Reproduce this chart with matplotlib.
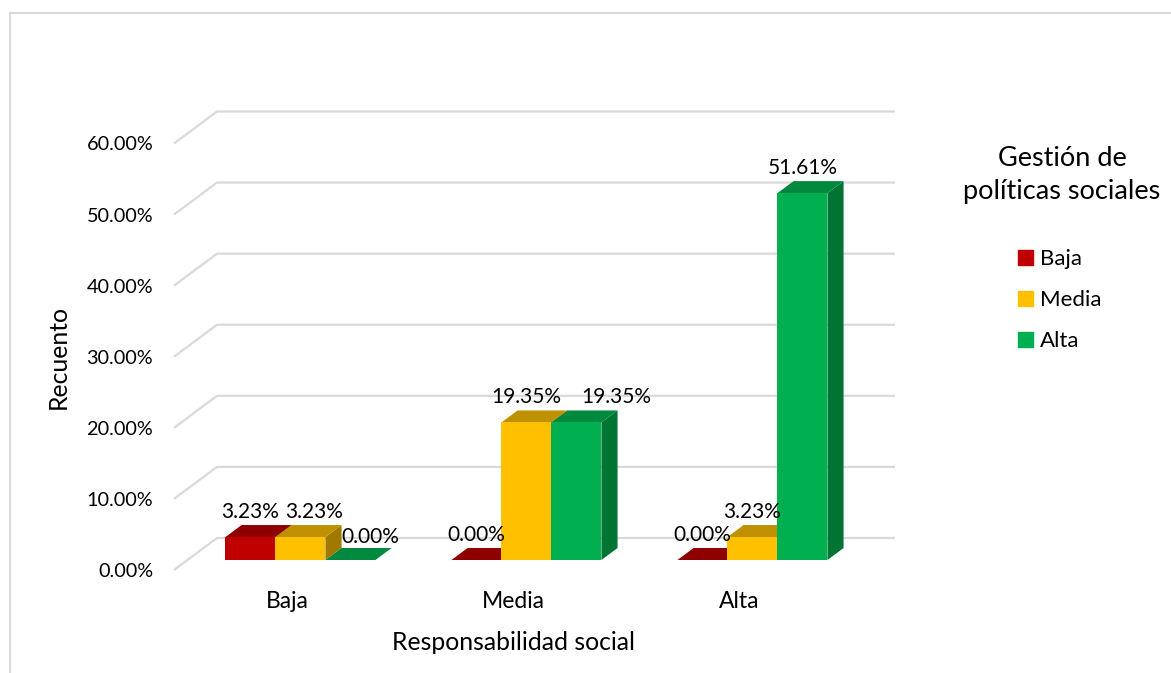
import matplotlib.pyplot as plt
from matplotlib.patches import Polygon, Patch, Rectangle

# Datos: porcentaje por nivel de responsabilidad social y gestión de políticas
categorias = ['Baja', 'Media', 'Alta']
series = ['Baja', 'Media', 'Alta']
baja = [3.23, 0.00, 0.00]
media = [3.23, 19.35, 3.23]
alta = [0.00, 19.35, 51.61]
valores = [baja, media, alta]

# colores (frente, tapa, lateral) para dar efecto 3D
colores = [('#C00000', '#8E0000', '#7A0000'),
           ('#FFC000', '#BF9000', '#A07A00'),
           ('#00B050', '#00893F', '#007533')]

plt.rcParams['font.family'] = ['Lato', 'DejaVu Sans']

fig = plt.figure(figsize=(11.71, 6.73), dpi=100)
W, H = 1171, 673
ax = fig.add_axes([174 / W, 103 / H, 678 / W, 426.5 / H])
ax.set_xlim(-0.5, 2.5)
ax.set_ylim(0, 60)

# profundidad del piso (en unidades de datos)
DX, DY = 43 / 226, 32 / 7.108
d0, d1 = 0.3125, 0.6875
ancho = 50 / 226
gris = '#D9D9D9'

# líneas de la cuadrícula con el piso inclinado
for v in range(0, 61, 10):
    ax.plot([-0.5, -0.5 + DX, 2.5 + DX], [v, v + DY, v + DY],
            color=gris, lw=1.6, clip_on=False, zorder=1, solid_capstyle='butt')

# desplazamientos de algunas etiquetas para que no se encimen (en puntos)
desplaz = {(0, 1): (9.5, 0), (0, 2): (14, -1.5), (1, 2): (29, 0)}

ddx = (d1 - d0) * DX
for j, serie in enumerate(valores):
    frente, tapa, lado = colores[j]
    for i, v in enumerate(serie):
        x0 = i + (j - 1.5) * ancho + d0 * DX
        yb, yt = d0 * DY, v + d0 * DY
        lateral = [(x0 + ancho, yb), (x0 + ancho, yt),
                   (x0 + ancho + ddx, yt + (d1 - d0) * DY),
                   (x0 + ancho + ddx, yb + (d1 - d0) * DY)]
        superior = [(x0, yt), (x0 + ancho, yt),
                    (x0 + ancho + ddx, yt + (d1 - d0) * DY),
                    (x0 + ddx, yt + (d1 - d0) * DY)]
        ax.add_patch(Polygon(lateral, closed=True, fc=lado, ec='none',
                             clip_on=False, zorder=2 + i * 3 + j))
        ax.add_patch(Polygon(superior, closed=True, fc=tapa, ec='none',
                             clip_on=False, zorder=2 + i * 3 + j))
        ax.add_patch(Rectangle((x0, yb), ancho, v, fc=frente, ec='none',
                               clip_on=False, zorder=2 + i * 3 + j))
        ox, oy = desplaz.get((i, j), (0, 0))
        ax.annotate(f'{v:.2f}%', (x0 + ancho / 2, v + d1 * DY),
                    xytext=(ox, 9.4 + oy), textcoords='offset points',
                    ha='center', va='center', fontsize=15, zorder=30,
                    annotation_clip=False)

for s in ax.spines.values():
    s.set_visible(False)
ax.set_yticks(range(0, 61, 10))
ax.set_yticklabels([f'{v:.2f}%' for v in range(0, 61, 10)])
ax.set_xticks(range(3))
ax.set_xticklabels(categorias)
ax.tick_params(axis='y', length=0, pad=15, labelsize=14.3)
ax.tick_params(axis='x', length=0, pad=15, labelsize=16.5)
ax.set_facecolor('none')

ax.set_xlabel('Responsabilidad social', fontsize=17.8)
ax.xaxis.set_label_coords((514 - 174) / 678, (570 - 642) / 426.5)
ax.xaxis.label.set_va('center')
ax.set_ylabel('Recuento', fontsize=17.8)
ax.yaxis.set_label_coords((58 - 174) / 678, (570 - 357) / 426.5)
ax.yaxis.label.set_va('center')

# leyenda con título aparte
fig.text(1062 / W, 1 - 175 / H, 'Gestión de\npolíticas sociales', ha='center',
         va='center', fontsize=19.5, linespacing=1.42)
manejadores = [Patch(color=c[0]) for c in colores]
fig.legend(manejadores, series, loc='upper left',
           bbox_to_anchor=(1018 / W, 1 - 249 / H), frameon=False, fontsize=16,
           handlelength=0.68, handleheight=0.68, handletextpad=0.3,
           labelspacing=0.95, borderpad=0, borderaxespad=0)

# borde del área del gráfico
fig.patches.append(Rectangle((10 / W, -0.1), 1.2, 1.1 - 13 / H, transform=fig.transFigure,
                             fill=False, ec=gris, lw=1.5))

fig.savefig('out.png', dpi=100)
